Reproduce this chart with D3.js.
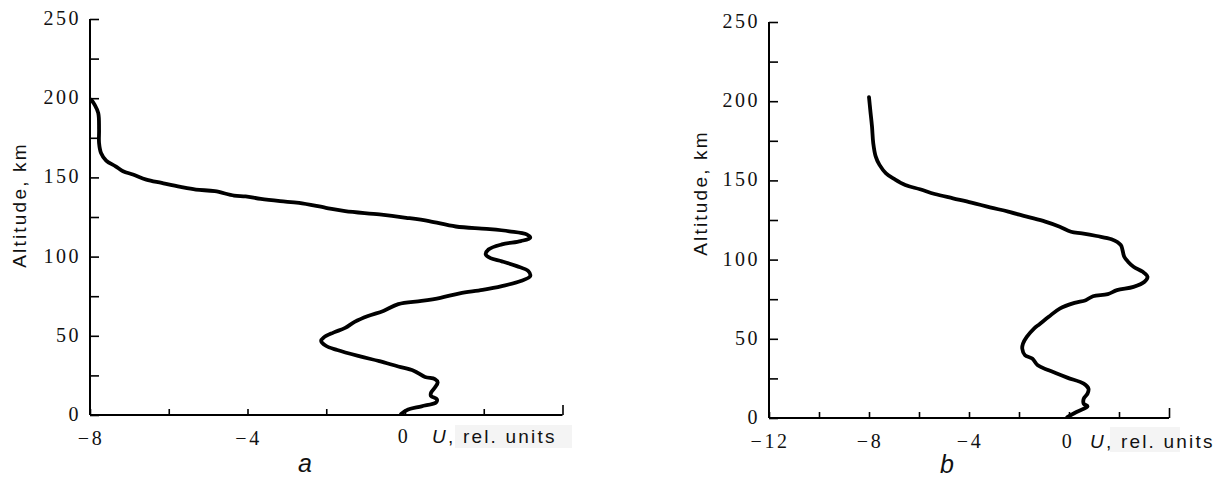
<!DOCTYPE html>
<html>
<head>
<meta charset="utf-8">
<script src="https://cdn.jsdelivr.net/npm/d3@7"></script>
<style>
  html, body { margin: 0; padding: 0; background: #fff; }
  svg { display: block; }
</style>
</head>
<body>
<svg id="chart" width="1218" height="477"></svg>
<script>
// ---- data ----
const altitudeTicks = [0, 50, 100, 150, 200, 250];
const altitudeMinorTicks = [25, 75, 125, 175, 225];

const uTicksA = [-8, -4, 0];
const uMinorA = [-6, -2, 2, 4];
const uTicksB = [-12, -8, -4, 0];
const uMinorB = [-10, -6, -2, 2, 4];

// panel a : U (rel. units) vs altitude (km)
const uA = [-0.1, 0.08, 0.42, 0.79, 0.81, 0.66, 0.66, 0.76, 0.83, 0.76, 0.51, 0.22, -0.17, -0.65, -1.14, -1.72,
  -2.01, -2.13, -2.06, -1.82, -1.52, -1.28, -0.94, -0.55, -0.17, 0.42, 0.90, 1.39, 1.97, 2.46, 2.94, 3.18,
  3.13, 2.84, 2.46, 2.17, 2.05, 2.12, 2.46, 2.94, 3.18, 3.09, 2.65, 2.07, 1.29, 0.61, 0.03, -0.65, -1.52,
  -2.01, -2.69, -3.17, -3.66, -4.05, -4.34, -4.83, -5.31, -5.70, -6.18, -6.57, -6.91, -7.16, -7.35, -7.59,
  -7.72, -7.77, -7.77, -7.79, -7.88, -7.97];
const altitudeA = [0.6, 3.4, 5.5, 8, 10, 12, 14, 17.4, 20.6, 22.7, 24, 28, 30.6, 34, 37, 41,
  43.7, 46.8, 49, 52, 55, 58.8, 62.5, 65.7, 70, 72, 74, 76.8, 79, 81.4, 84.6, 87.7,
  90.9, 94, 97, 99, 101.4, 104.5, 107.7, 109.8, 111.9, 114, 116, 117.5, 119, 122.4, 124.5, 126.6, 128.7,
  130.8, 133.9, 135, 136.4, 138, 138.5, 141.3, 142.3, 144, 146.5, 148.6, 151.8, 153.9, 157, 160.6,
  165.4, 171.7, 180, 190.6, 195.8, 199];

// panel b
const uB = [-0.07, 0.30, 0.74, 0.59, 0.59, 0.74, 0.78, 0.59, -0.07, -0.81, -1.25, -1.47, -1.76, -1.87, -1.84,
  -1.69, -1.40, -1.18, -0.81, -0.37, 0.22, 0.67, 0.96, 1.55, 1.92, 2.58, 3.02, 3.14, 2.95, 2.58, 2.36, 2.21,
  2.14, 2.07, 1.70, 1.11, 0.52, 0.08, -0.37, -0.95, -1.69, -2.43, -3.16, -3.90, -4.64, -5.37, -5.96, -6.55,
  -6.99, -7.32, -7.58, -7.73, -7.83, -7.88, -7.95, -8.0];
const altitudeB = [0.6, 3.8, 7.4, 9, 12.2, 15.4, 18.5, 21.7, 25.5, 30.1, 33.3, 37.5, 39.6, 43.8, 47,
  51.2, 56.5, 59.2, 63.9, 69.1, 72.7, 74.4, 76.9, 78.2, 80.7, 82.8, 86, 89.2, 92.3, 95.5, 98.7, 101.8,
  106, 109.2, 112.8, 114.9, 116.6, 117.6, 120.8, 124, 127.1, 130.3, 133, 136, 138.7, 141.4, 144.4, 147.1,
  150.9, 154.5, 159.8, 165, 173.5, 184, 194.6, 202.6];

const yTitle = "Altitude, km";
const xTitleItalic = "U";
const xTitleRest = ", rel. units";
const panelLabels = ["a", "b"];

// ---- drawing ----
const svg = d3.select("#chart");
const serif = "'Liberation Serif', 'Times New Roman', serif";
const sans = "'Liberation Sans', Arial, sans-serif";

function fmt(v) { return v < 0 ? "\u2212" + Math.abs(v) : String(v); }

function panel(cfg) {
  const x = d3.scaleLinear().domain(cfg.xDomain).range(cfg.xRange);
  const y = d3.scaleLinear().domain([0, 250]).range(cfg.yRange);
  const g = svg.append("g");

  // faint scan background behind the unit label
  g.append("rect")
    .attr("x", cfg.bgRect[0]).attr("y", cfg.bgRect[1])
    .attr("width", cfg.bgRect[2]).attr("height", cfg.bgRect[3])
    .attr("fill", "#f4f4f4");

  // y axis
  const yAxis = d3.axisRight(y).tickValues(altitudeTicks.concat(altitudeMinorTicks))
    .tickSize(9).tickFormat("");
  const ya = g.append("g").attr("transform", `translate(${x(cfg.xDomain[0])},0)`).call(yAxis);
  ya.select(".domain").attr("stroke", "#000").attr("stroke-width", 2).attr("d",
    `M0,${y(250)}V${y(0)}`);
  ya.selectAll(".tick line").attr("stroke", "#000").attr("stroke-width", 1.6);

  // y tick labels
  g.append("g").selectAll("text").data(altitudeTicks).join("text")
    .attr("x", x(cfg.xDomain[0]) - 9)
    .attr("y", d => y(d) + 6)
    .attr("text-anchor", "end")
    .attr("font-family", serif).attr("font-size", 20).attr("letter-spacing", "2.5px")
    .attr("fill", "#111")
    .text(d => d);

  // x axis
  const xAxis = d3.axisTop(x).tickValues(cfg.xMajor.concat(cfg.xMinor)).tickSize(6).tickFormat("");
  const xa = g.append("g").attr("transform", `translate(0,${y(0)})`).call(xAxis);
  xa.select(".domain").attr("stroke", "#000").attr("stroke-width", 2).attr("d",
    `M${x(cfg.xDomain[0])},0H${x(cfg.xDomain[1])}`);
  xa.selectAll(".tick line").attr("stroke", "#000").attr("stroke-width", 1.6)
    .attr("y2", d => d === cfg.xDomain[1] ? -10 : -6);

  // x tick labels
  g.append("g").selectAll("text").data(cfg.xMajor).join("text")
    .attr("x", d => x(d) + (d === 0 ? -1 : 1))
    .attr("y", d => y(0) + (d === 0 ? cfg.zeroBase : cfg.labBase))
    .attr("text-anchor", "middle")
    .attr("font-family", serif).attr("font-size", 20).attr("letter-spacing", "2.5px")
    .attr("fill", "#111")
    .text(fmt);

  // x title
  const t = g.append("text")
    .attr("x", cfg.unitX).attr("y", y(0) + cfg.zeroBase)
    .attr("font-family", sans).attr("font-size", 19).attr("letter-spacing", "2.2px")
    .attr("fill", "#111");
  t.append("tspan").attr("font-style", "italic").text(xTitleItalic);
  t.append("tspan").text(xTitleRest);

  // y title
  g.append("text")
    .attr("transform", `translate(${cfg.yTitleX},${cfg.yTitleY}) rotate(-90)`)
    .attr("text-anchor", "middle")
    .attr("font-family", sans).attr("font-size", 19).attr("letter-spacing", "2.2px")
    .attr("fill", "#111")
    .text(yTitle);

  // panel letter
  g.append("text")
    .attr("x", cfg.letterX).attr("y", cfg.letterY)
    .attr("text-anchor", "middle")
    .attr("font-family", sans).attr("font-size", 25).attr("font-style", "italic")
    .attr("fill", "#111")
    .text(cfg.letter);

  // curve
  const pts = cfg.u.map((v, i) => [v, cfg.alt[i]]);
  const line = d3.line().x(d => x(d[0])).y(d => y(d[1])).curve(d3.curveCatmullRom.alpha(0.5));
  g.append("path").datum(pts)
    .attr("d", line)
    .attr("fill", "none").attr("stroke", "#000").attr("stroke-width", 3.8)
    .attr("stroke-linejoin", "round").attr("stroke-linecap", "round");
}

panel({
  xDomain: [-8, 4], xRange: [90, 562.5], yRange: [415, 19],
  xMajor: uTicksA, xMinor: uMinorA, u: uA, alt: altitudeA,
  labBase: 30, zeroBase: 28, unitX: 432,
  bgRect: [455, 425, 117, 23],
  yTitleX: 26, yTitleY: 205,
  letter: panelLabels[0], letterX: 305, letterY: 472
});

panel({
  xDomain: [-12, 4], xRange: [769, 1169], yRange: [418, 22],
  xMajor: uTicksB, xMinor: uMinorB, u: uB, alt: altitudeB,
  labBase: 30, zeroBase: 30, unitX: 1090,
  bgRect: [1110, 427, 70, 25],
  yTitleX: 707, yTitleY: 193,
  letter: panelLabels[1], letterX: 947, letterY: 473
});
</script>
</body>
</html>
